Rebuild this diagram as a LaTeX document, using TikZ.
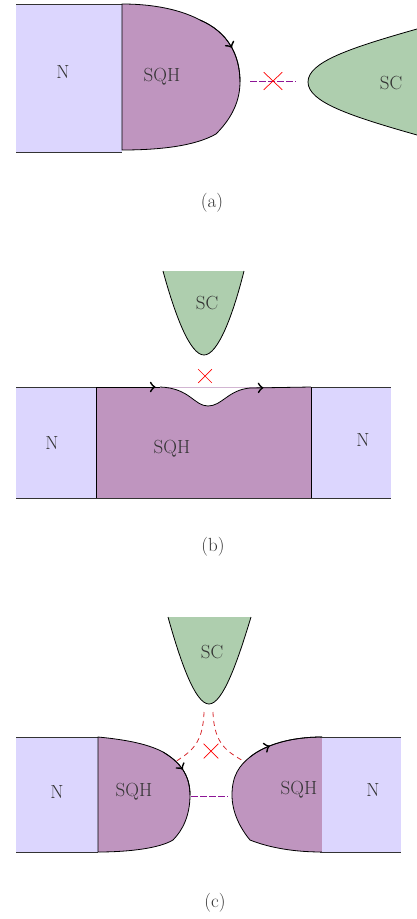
\documentclass[tikz,border=0pt]{standalone}
\usetikzlibrary{decorations.markings,shapes.misc}
\definecolor{nfill}{RGB}{220,214,254}
\definecolor{sqhfill}{RGB}{191,149,191}
\definecolor{scfill}{RGB}{174,206,174}
\definecolor{tunnelc}{RGB}{140,20,150}
\definecolor{andreevc}{RGB}{215,40,45}

\begin{document}
\begin{tikzpicture}[x=1pt,y=-1pt,line width=0.8pt,
  nedge/.style={draw=black!80,line width=1pt},
  sqhregion/.style={fill=sqhfill,draw=black},
  scregion/.style={fill=scfill,draw=black},
  lbl/.style={font=\fontsize{19}{23}\selectfont,text=black!80},
  blocked/.style={cross out,draw=red,line width=0.7pt,inner sep=0pt},
  tunnel/.style={draw=tunnelc,dash pattern=on 7pt off 2pt},
  andreev/.style={draw=andreevc,dash pattern=on 5pt off 4pt},
  flow/.style={postaction={decorate,decoration={markings,
    mark=at position #1 with {\arrow[scale=2.2]{>}}}}}]
  \useasboundingbox (0,0) rectangle (417,919);

  \fill[nfill] (16,4) rectangle (122,152);
  \draw[nedge] (16,4) -- (122,4) (16,152) -- (122,152);
  \filldraw[sqhregion] (122,4) .. controls (160,4) and (185,12) .. (200,20)
    .. controls (228,32) and (240,55) .. (240,82)
    .. controls (240,105) and (228,122) .. (216,134)
    .. controls (195,146) and (160,150) .. (122,150) -- cycle;
  \draw[flow=0.55] (200,20) .. controls (228,32) and (240,55) .. (240,82);
  \filldraw[scregion] (417,29) .. controls (350,48) and (308,62) .. (308,82)
    .. controls (308,102) and (350,116) .. (417,135);
  \node[lbl] (na) at (63,72) {N};
  \node[lbl] (sqha) at (162,77) {SQH};
  \node[lbl] (sca) at (391,83) {SC};
  \coordinate (ta1) at (250,81);
  \coordinate (ta2) at (296,81);
  \draw[tunnel] (ta1) -- (ta2);
  \node[blocked,minimum width=18pt,minimum height=17pt] (xa) at (273,81) {};
  \node[lbl] (capa) at (212,203) {(a)};

  \filldraw[scregion] (163,271) .. controls (175,315) and (190,355) .. (204,355)
    .. controls (218,355) and (233,315) .. (244,271);
  \fill[nfill] (16,387) rectangle (96,498);
  \fill[sqhfill] (96,387) rectangle (311,498);
  \fill[nfill] (311,387) rectangle (391,498);
  \fill[white] (160,387) .. controls (190,388) and (194,406) .. (208,406)
    .. controls (222,406) and (228,390) .. (250,388) -- cycle;
  \draw[sqhfill!70,line width=0.5pt] (160,387) -- (250,387);
  \draw[nedge] (16,387) -- (96,387) (16,498) -- (391,498) (311,387) -- (391,387);
  \draw (96,387) -- (96,498) (311,387) -- (311,498);
  \draw[flow=0.93] (96,387) -- (160,387);
  \draw (160,387) .. controls (190,388) and (194,406) .. (208,406)
    .. controls (222,406) and (228,390) .. (250,388);
  \draw[flow=0.22] (250,388) -- (311,387);
  \node[lbl] (scb) at (207,303) {SC};
  \node[blocked,minimum width=13pt,minimum height=13pt] (xb) at (205,376) {};
  \node[lbl] (nb1) at (52,443) {N};
  \node[lbl] (sqhb) at (172,449) {SQH};
  \node[lbl] (nb2) at (363,440) {N};
  \node[lbl] (capb) at (213,547) {(b)};

  \filldraw[scregion] (168,617) .. controls (180,660) and (195,704) .. (209,704)
    .. controls (223,704) and (238,660) .. (251,617);
  \fill[nfill] (16,737) rectangle (98,852);
  \draw[nedge] (16,737) -- (98,737) (16,852) -- (98,852);
  \filldraw[sqhregion] (98,737) .. controls (130,740) and (150,745) .. (163,752)
    .. controls (180,762) and (190,775) .. (190,795)
    .. controls (190,815) and (183,830) .. (173,840)
    .. controls (160,848) and (130,852) .. (98,852) -- cycle;
  \draw[flow=0.5] (163,752) .. controls (180,762) and (190,775) .. (190,795);
  \filldraw[sqhregion] (322,852) .. controls (295,852) and (270,848) .. (250,840)
    .. controls (240,828) and (232,812) .. (232,795)
    .. controls (232,775) and (240,765) .. (250,757)
    .. controls (265,745) and (290,737) .. (322,737);
  \draw[flow=0.3] (250,757) .. controls (265,745) and (290,737) .. (322,737);
  \fill[nfill] (322,737) rectangle (401,852);
  \draw[nedge] (320,737) -- (401,737) (320,852) -- (401,852);
  \node[lbl] (scc) at (212,652) {SC};
  \coordinate (tc1) at (191,796);
  \coordinate (tc2) at (228,796);
  \draw[tunnel] (tc1) -- (tc2);
  \coordinate (ac0) at (204,712);
  \coordinate (ac1) at (175,762);
  \coordinate (ac2) at (213,712);
  \coordinate (ac3) at (245,762);
  \draw[andreev] (ac0) .. controls (203,745) and (190,752) .. (ac1);
  \draw[andreev] (ac2) .. controls (214,745) and (228,752) .. (ac3);
  \node[blocked,minimum width=14pt,minimum height=14pt] (xc) at (211,751) {};
  \node[lbl] (nc1) at (57,792) {N};
  \node[lbl] (sqhc1) at (134,792) {SQH};
  \node[lbl] (sqhc2) at (299,790) {SQH};
  \node[lbl] (nc2) at (373,790) {N};
  \node[lbl] (capc) at (215,903) {(c)};
\end{tikzpicture}
\end{document}
